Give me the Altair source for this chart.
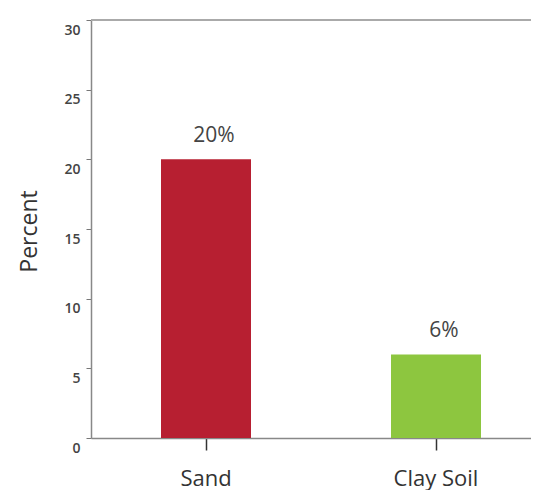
import altair as alt
import pandas as pd

categories = ["Sand", "Clay Soil"]
values = [20, 6]
labels = ["20%", "6%"]
colors = ["#B71F31", "#8DC63F"]
y_ticks = [0, 5, 10, 15, 20, 25, 30]

df = pd.DataFrame({"soil": categories, "pct": values, "label": labels})

FONT = "Open Sans"
W = 440
H = 418

x = alt.X(
    "soil:N",
    sort=categories,
    scale=alt.Scale(paddingInner=0, paddingOuter=0, range=[0, 460]),
    axis=alt.Axis(
        title=None,
        labelAngle=0,
        labelFont=FONT,
        labelFontSize=22,
        labelColor="#333333",
        labelPadding=18,
        tickSize=12,
        tickColor="#333333",
        tickWidth=1.5,
        domainColor="#888888",
        domainWidth=1.5,
    ),
)

y = alt.Y(
    "pct:Q",
    scale=alt.Scale(domain=[0, 30], nice=False),
    axis=alt.Axis(
        title="Percent",
        values=y_ticks,
        grid=False,
        labelFont=FONT,
        labelFontSize=14,
        labelFontWeight=600,
        labelColor="#444444",
        labelPadding=6,
        labelOffset=10,
        tickSize=5,
        tickColor="#777777",
        domainColor="#888888",
        domainWidth=1.5,
        titleFont=FONT,
        titleFontSize=23,
        titleFontWeight="normal",
        titleColor="#333333",
        titleX=-55,
        titleY=211,
        titleBaseline="alphabetic",
    ),
)

bars = alt.Chart(df).mark_bar(size=90).encode(
    x=x,
    y=y,
    color=alt.Color("soil:N", scale=alt.Scale(domain=categories, range=colors), legend=None),
)

text = alt.Chart(df).mark_text(
    font=FONT, fontSize=21, color="#444444", baseline="alphabetic", dy=-17, dx=8
).encode(
    x=alt.X("soil:N", sort=categories),
    y=alt.Y("pct:Q"),
    text="label:N",
)

top_line = alt.Chart(df).mark_rule(color="#aaaaaa", strokeWidth=2).encode(
    x=alt.value(0), x2=alt.value(W + 20), y=alt.value(0)
)

chart = (
    alt.layer(bars, text, top_line)
    .properties(
        width=W,
        height=H,
        autosize=alt.AutoSizeParams(type="none"),
        padding={"left": 83, "top": 12, "right": 0, "bottom": 52},
    )
    .configure_view(stroke=None)
)

chart.save("out.html", embed_options={"renderer": "svg", "actions": False})
